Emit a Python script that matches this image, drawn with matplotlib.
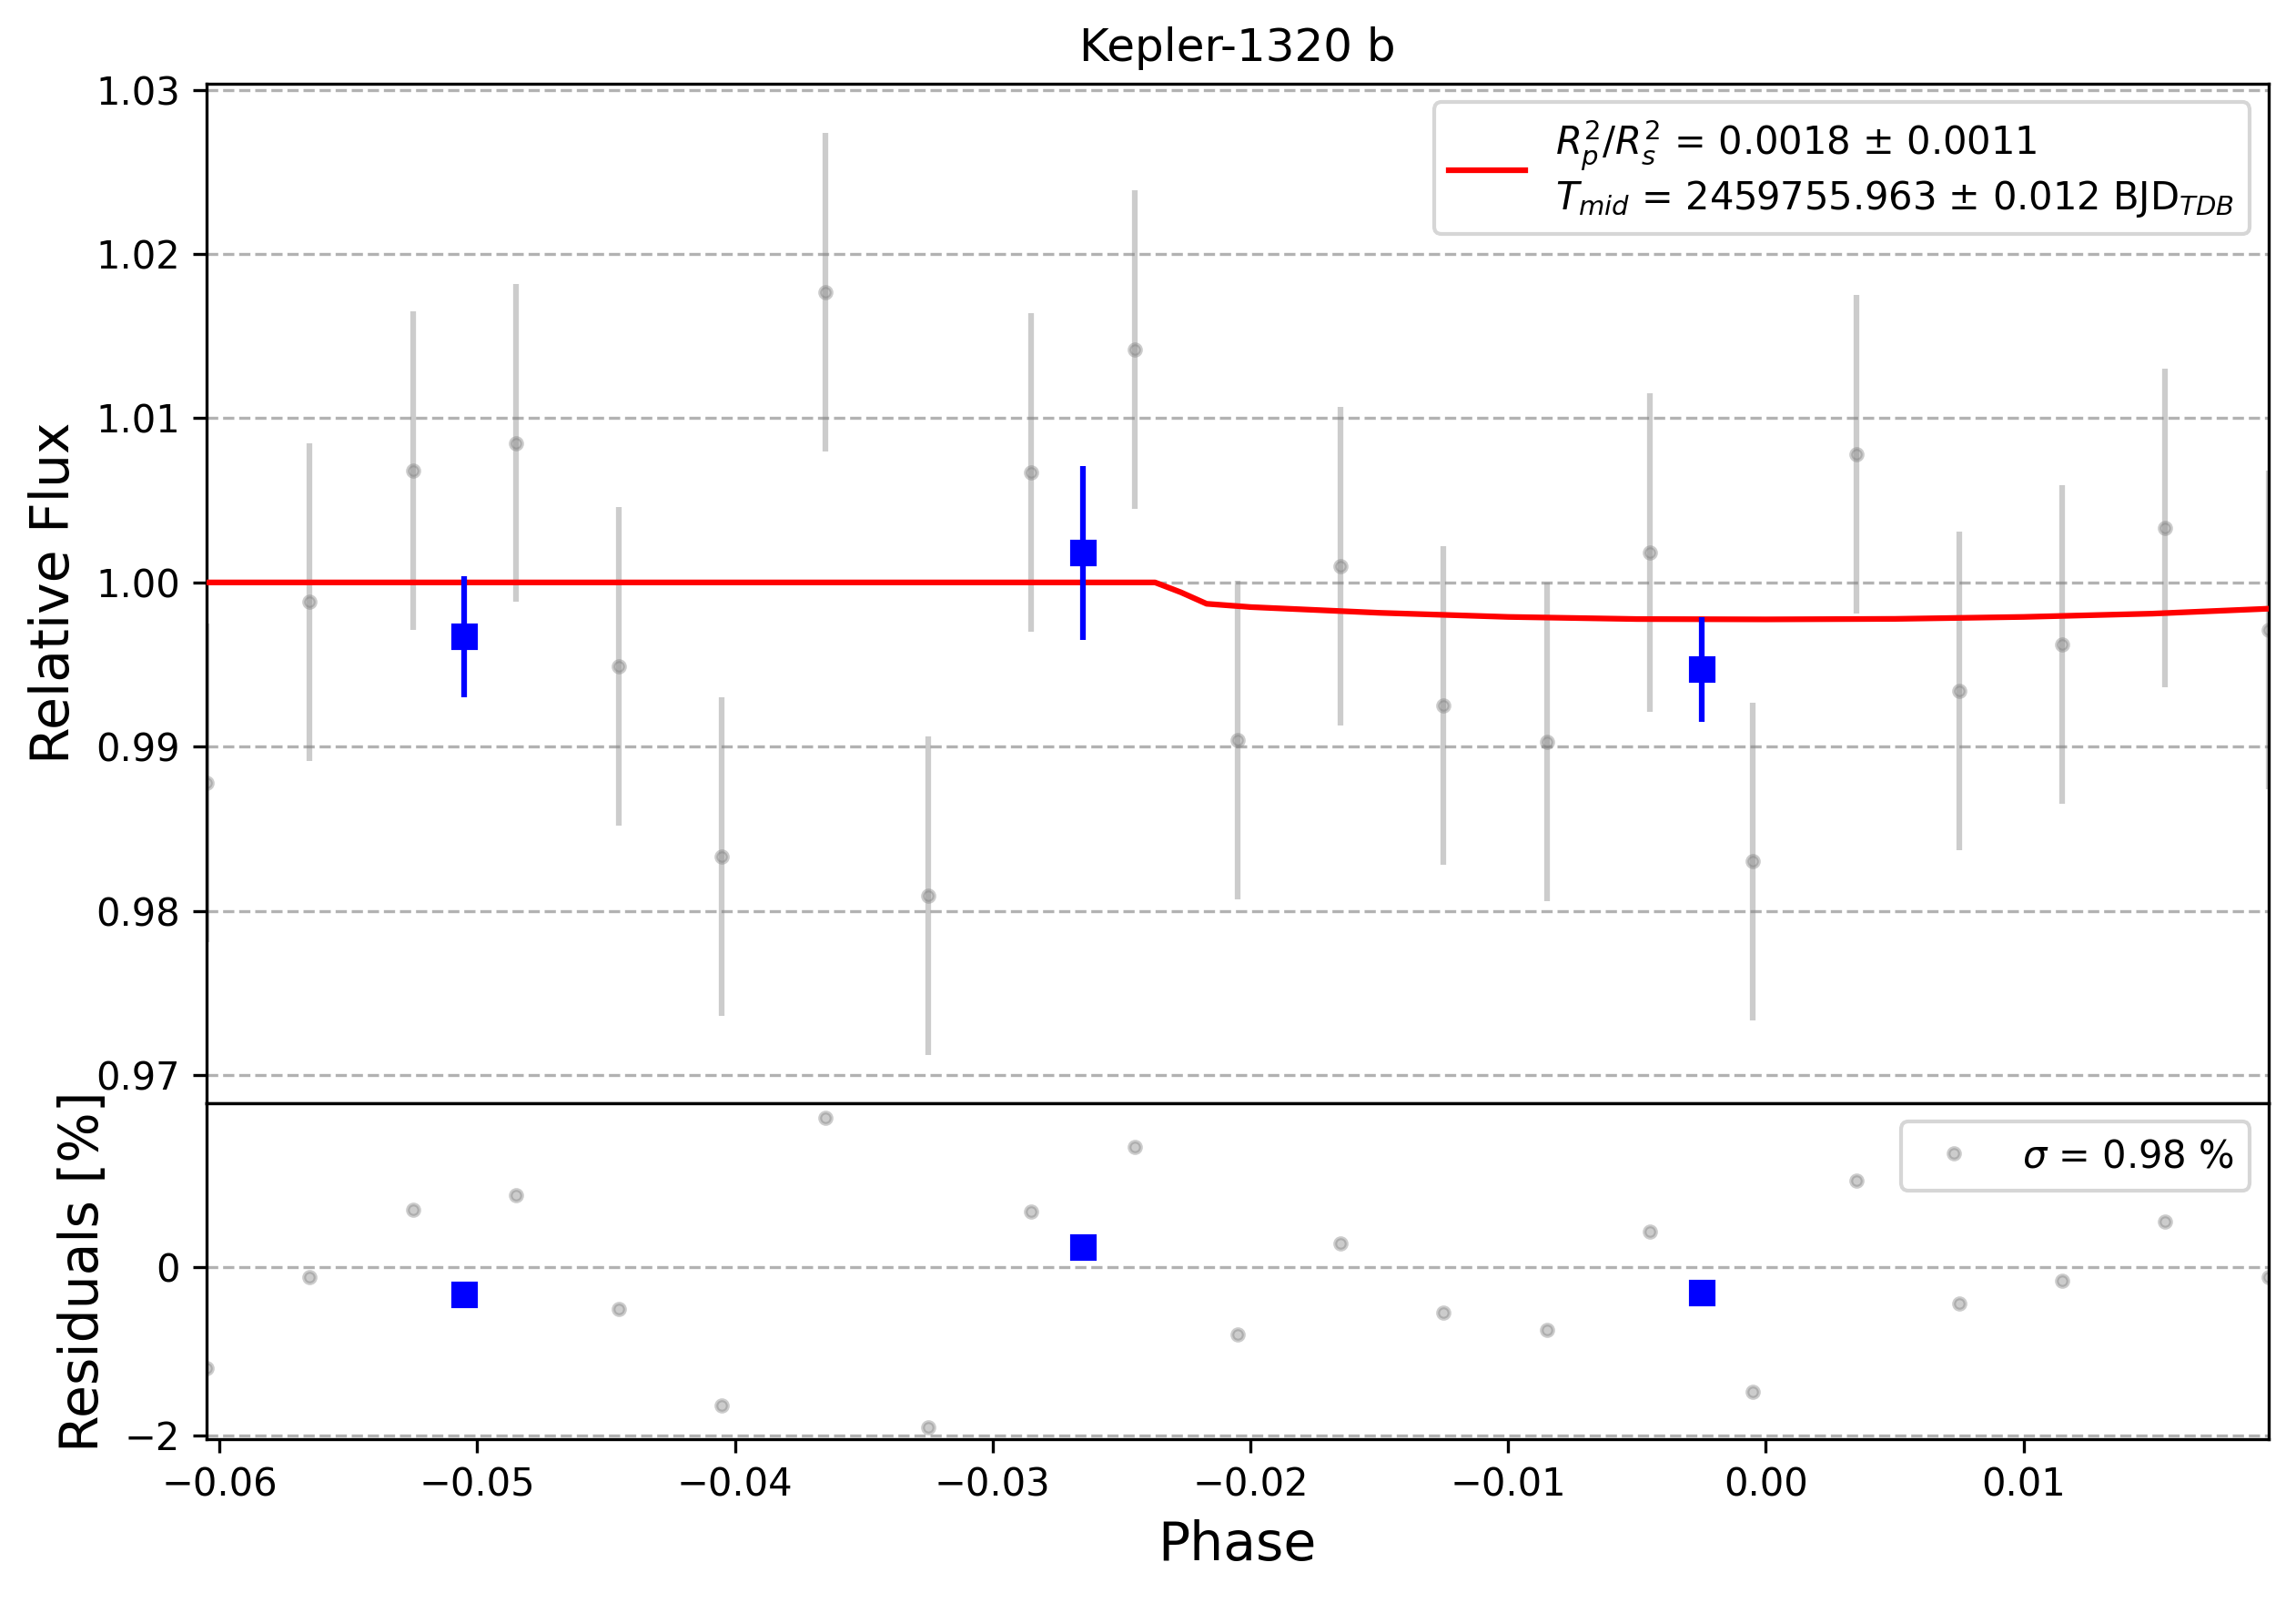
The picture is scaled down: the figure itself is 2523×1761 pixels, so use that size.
import numpy as np
import matplotlib
matplotlib.use("Agg")
import matplotlib.pyplot as plt

# unbinned data
phase = -0.0605 + 0.004 * np.arange(21)
flux = [0.9878, 0.9988, 1.0068, 1.0085, 0.9949, 0.9833, 1.0177, 0.9809, 1.0067, 1.0142,
        0.9904, 1.0010, 0.9925, 0.9903, 1.0018, 0.9830, 1.0078, 0.9934, 0.9962, 1.0033, 0.9971]
flux_err = [0.0097] * 21
resid = [-1.2, -0.12, 0.68, 0.85, -0.5, -1.65, 1.77, -1.9, 0.66, 1.43,
         -0.8, 0.28, -0.54, -0.75, 0.42, -1.48, 1.03, -0.43, -0.16, 0.54, -0.12]

# binned data
bin_phase = [-0.0505, -0.0265, -0.0025]
bin_flux = [0.9967, 1.0018, 0.9947]
bin_err = [0.0037, 0.0053, 0.0032]
bin_resid = [-0.33, 0.24, -0.30]

# transit model
model_phase = [-0.0605, -0.0237, -0.0227, -0.0217, -0.020, -0.015, -0.010, -0.005,
               0.0, 0.005, 0.010, 0.015, 0.0195]
model_flux = [1.0, 1.0, 0.9994, 0.9987, 0.9985, 0.99815, 0.9979, 0.99777,
              0.99775, 0.99778, 0.9979, 0.9981, 0.9984]

fig = plt.figure(figsize=(8.41, 5.87), dpi=300)
ax = fig.add_axes([0.090, 0.312, 0.898, 0.636])
axr = fig.add_axes([0.090, 0.102, 0.898, 0.210], sharex=ax)

ax.errorbar(phase, flux, yerr=flux_err, fmt=".", color="gray", alpha=0.4, zorder=1)
ax.plot(model_phase, model_flux, "r-", zorder=3,
        label="$R^{2}_{p}/R^{2}_{s}$ = 0.0018 ± 0.0011\n$T_{mid}$ = 2459755.963 ± 0.012 BJD$_{TDB}$")
ax.errorbar(bin_phase, bin_flux, yerr=bin_err, fmt="s", color="blue", ms=6, zorder=4)
ax.set_ylim(0.9683, 1.0304)
ax.set_xlim(-0.0605, 0.0195)
ax.set_ylabel("Relative Flux", fontsize=14)
ax.set_title("Kepler-1320 b")
ax.grid(axis="y", ls="--", color="gray", alpha=0.6)
ax.tick_params(labelbottom=False)
ax.legend(loc="upper right")

axr.plot(phase, resid, ".", color="gray", alpha=0.4, label=r"$\sigma$ = 0.98 %")
axr.plot(bin_phase, bin_resid, "s", color="blue", ms=6)
axr.set_ylim(-2.05, 1.95)
axr.set_yticks([-2, 0])
axr.grid(axis="y", ls="--", color="gray", alpha=0.6)
axr.set_xlabel("Phase", fontsize=14)
axr.set_ylabel("Residuals [%]", fontsize=14)
axr.legend(loc="upper right")

fig.savefig("out.png", dpi=300)
